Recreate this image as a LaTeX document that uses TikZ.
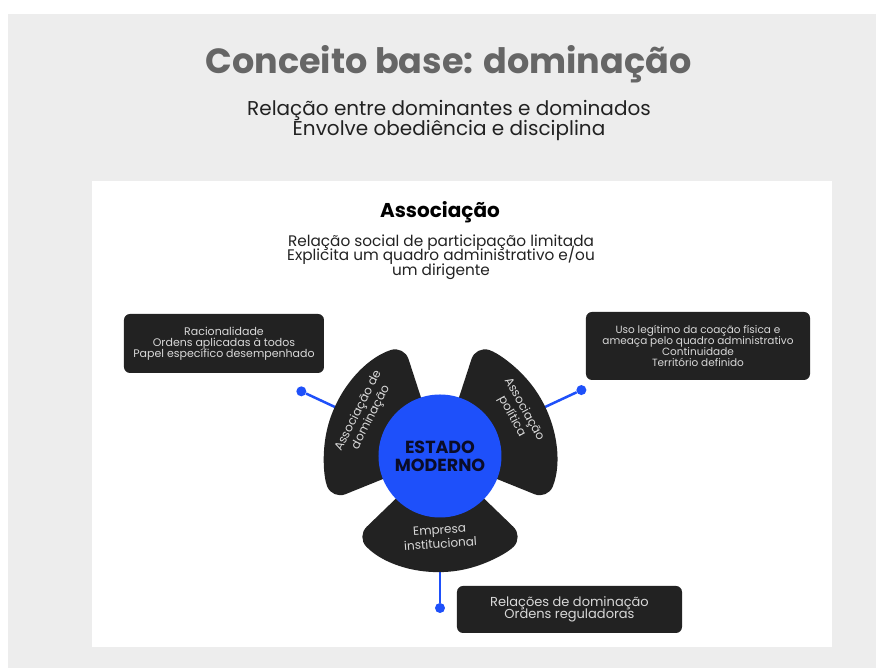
\documentclass[tikz,border=0pt]{standalone}
\usepackage{fontspec}
\setmainfont{Poppins}
\definecolor{panelgray}{HTML}{EDEDED}
\definecolor{darkbox}{HTML}{222222}
\definecolor{stateblue}{HTML}{1E50FA}
\definecolor{softtext}{HTML}{D8D8D8}
\definecolor{titlegray}{HTML}{666666}
\newcommand{\tightlines}{\lineskiplimit=-20pt\lineskip=0pt}
\tikzset{
  infobox/.style={fill=darkbox, rounded corners=6pt, text=softtext, align=center, inner sep=0pt},
  petaltext/.style={text=softtext, align=center, font=\fontsize{12}{14}\selectfont\tightlines},
  petal/.style={fill=darkbox, rounded corners=14pt},
  link/.style={stateblue, line width=2.5pt},
  linkdot/.style={circle, fill=stateblue, minimum size=10pt, inner sep=0pt},
}
\begin{document}
\begin{tikzpicture}[x=1pt, y=1pt]
      \useasboundingbox (-440,456) rectangle (436,-212);
      \fill[white] (-440,456) rectangle (436,-212);            % page
      \fill[panelgray] (-432,442) rectangle (436,-212);         % grey panel
      \fill[white] (-348,275) rectangle (392,-191);             % white panel
      %
      \node[text=titlegray, font=\fontsize{35}{35}\selectfont\bfseries] (title) at (8.5,392) {Conceito base: dominação};
      \node[text=darkbox, align=center, font=\fontsize{20}{20}\selectfont\tightlines] (sub) at (9,336) {Relação entre dominantes e dominados\\Envolve obediência e disciplina};
      %
      \node[font=\fontsize{20}{20}\selectfont\bfseries] (assoc) at (0,244) {Associação};
      \node[text=darkbox, align=center, font=\fontsize{15.3}{14.5}\selectfont\tightlines] (assocdef) at (1,199) {Relação social de participação limitada\\Explicita um quadro administrativo e/ou\\um dirigente};
      %
      \coordinate (pL) at (155:112);                            % petal anchors
      \coordinate (pR) at (25:112);
      \coordinate (pB) at (270:112);
      \node[linkdot] (dotL) at (155:153) {};                    % blue dots
      \node[linkdot] (dotR) at (25:156) {};
      \node[linkdot] (dotB) at (270:152) {};
      \draw[link] (dotL) -- (pL);
      \draw[link] (dotR) -- (pR);
      \draw[link] (dotB) -- (pB);
      %
      \fill[petal] (108:40) -- (108:116) arc[start angle=108, end angle=202, radius=116] -- (202:40) -- cycle;   % left petal
      \fill[petal] (-22:40) -- (-22:116) arc[start angle=-22, end angle=72, radius=116] -- (72:40) -- cycle;     % right petal
      \fill[petal] (224:40) -- (224:116) arc[start angle=224, end angle=316, radius=116] -- (316:40) -- cycle;   % bottom petal
      %
      \node[circle, fill=stateblue, minimum size=123pt, inner sep=0pt, align=center, text={rgb,255:red,10;green,12;blue,40}, font=\fontsize{17.5}{18}\selectfont\bfseries\tightlines] (estado) at (0,0) {ESTADO\\MODERNO};
      %
      \node[petaltext, rotate=63] (tL) at (151:86) {Associação de\\dominação};
      \node[petaltext, rotate=-61] (tR) at (29:89) {Associação\\política};
      \node[petaltext, rotate=4] (tB) at (270:81) {Empresa\\institucional};
      %
      \node[infobox, minimum width=200pt, minimum height=59pt, font=\fontsize{11}{11}\selectfont\tightlines] (boxL) at (-216,112.5) {Racionalidade\\Ordens aplicadas à todos\\Papel específico desempenhado};
      \node[infobox, minimum width=224pt, minimum height=68pt, font=\fontsize{10.5}{11}\selectfont\tightlines] (boxR) at (258,110) {Uso legítimo da coação física e\\ameaça pelo quadro administrativo\\Continuidade\\Território definido};
      \node[infobox, minimum width=225pt, minimum height=47pt, font=\fontsize{13}{12}\selectfont\tightlines] (boxB) at (129.5,-153.5) {Relações de dominação\\Ordens reguladoras};
    \end{tikzpicture}
\end{document}
